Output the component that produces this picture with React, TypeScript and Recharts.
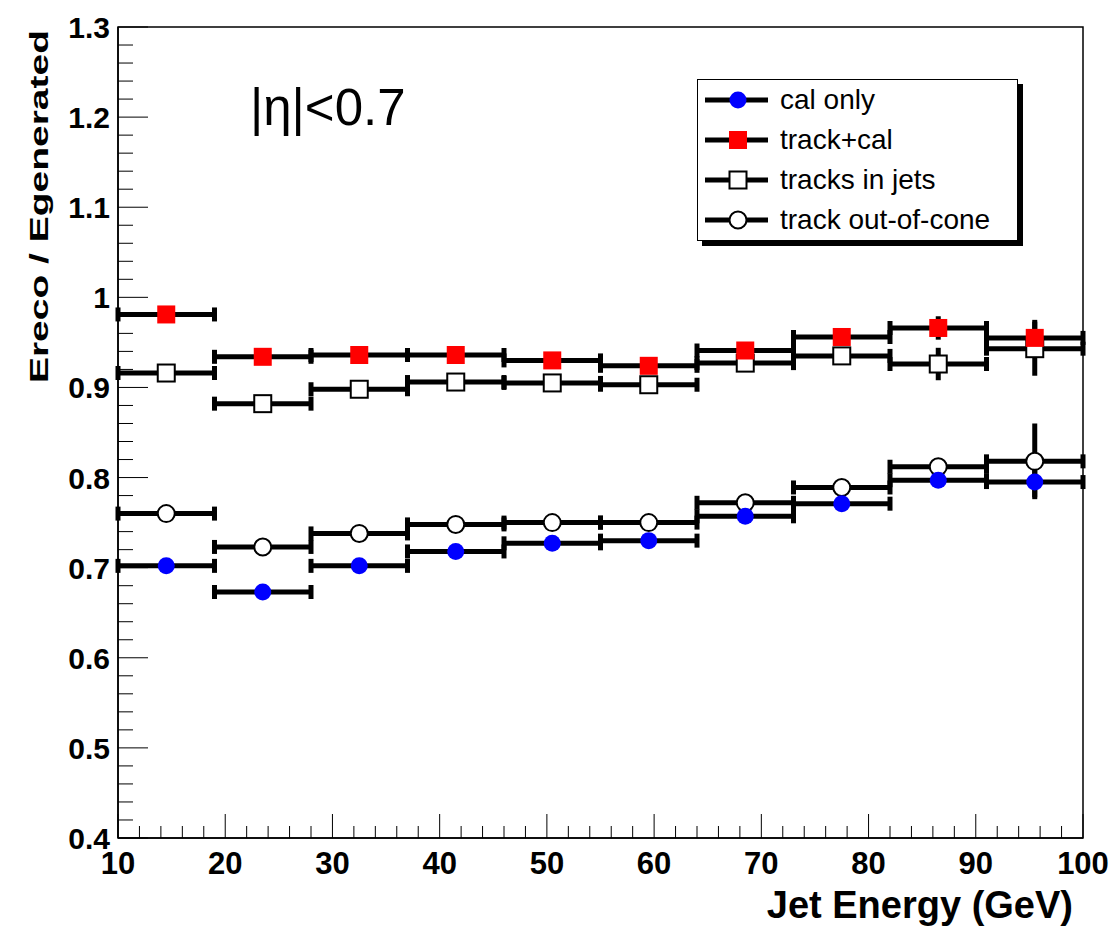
import React from 'react'
import { ComposedChart, ErrorBar, Legend, ReferenceArea, Scatter, XAxis, YAxis } from 'recharts'

// bins of 9 GeV between 10 and 100
const BIN_CENTERS = [14.5, 23.5, 32.5, 41.5, 50.5, 59.5, 68.5, 77.5, 86.5, 95.5]
const BIN_HALF_WIDTHS = [4.5, 4.5, 4.5, 4.5, 4.5, 4.5, 4.5, 4.5, 4.5, 4.5]

const CAL_ONLY = [0.702, 0.673, 0.702, 0.718, 0.727, 0.73, 0.757, 0.771, 0.797, 0.795]
const CAL_ONLY_ERR = [0.003, 0.003, 0.003, 0.003, 0.004, 0.004, 0.005, 0.006, 0.008, 0.017]

const TRACK_CAL = [0.981, 0.934, 0.936, 0.936, 0.93, 0.924, 0.941, 0.956, 0.966, 0.955]
const TRACK_CAL_ERR = [0.003, 0.003, 0.003, 0.003, 0.004, 0.004, 0.005, 0.006, 0.013, 0.02]

const TRACKS_IN_JETS = [0.916, 0.882, 0.898, 0.906, 0.905, 0.903, 0.927, 0.935, 0.926, 0.943]
const TRACKS_IN_JETS_ERR = [0.003, 0.003, 0.003, 0.003, 0.004, 0.004, 0.005, 0.006, 0.018, 0.03]

const OUT_OF_CONE = [0.76, 0.723, 0.738, 0.748, 0.75, 0.75, 0.772, 0.789, 0.812, 0.818]
const OUT_OF_CONE_ERR = [0.003, 0.003, 0.003, 0.003, 0.004, 0.004, 0.005, 0.006, 0.008, 0.042]

const X_LABELS = [10, 20, 30, 40, 50, 60, 70, 80, 90, 100]
const Y_LABELS = [0.4, 0.5, 0.6, 0.7, 0.8, 0.9, 1, 1.1, 1.2, 1.3]
const MINOR_DIVISIONS = 5

const FONT = '"Liberation Sans", Arial, Helvetica, sans-serif'

// majors plus the minor subdivisions between them (ROOT style)
function withMinors(majors: number[]): number[] {
  const out: number[] = []
  majors.forEach((m, i) => {
    out.push(m)
    const next = majors[i + 1]
    if (next === undefined) return
    for (let k = 1; k < MINOR_DIVISIONS; k++) {
      out.push(Math.round((m + ((next - m) * k) / MINOR_DIVISIONS) * 1000) / 1000)
    }
  })
  return out
}
const X_TICKS = withMinors(X_LABELS)
const Y_TICKS = withMinors(Y_LABELS)

const toPoints = (values: number[], errs: number[]) =>
  BIN_CENTERS.map((x, i) => ({ x, y: values[i], xErr: BIN_HALF_WIDTHS[i], yErr: errs[i] }))

const isMajor = (list: number[], v: number) => list.some((m) => Math.abs(m - v) < 1e-6)

function XTick(props: any) {
  const { x, y, payload } = props
  const v = payload.value
  const major = isMajor(X_LABELS, v)
  return (
    <g>
      <line x1={x} x2={x} y1={y} y2={y - (major ? 24 : 12)} stroke="#000" strokeWidth={1} />
      {major && (
        <text x={x} y={y + 36} textAnchor="middle" fontFamily={FONT} fontWeight={700} fontSize={31} fill="#000">
          {v}
        </text>
      )}
    </g>
  )
}

function YTick(props: any) {
  const { x, y, payload } = props
  const v = payload.value
  const major = isMajor(Y_LABELS, v)
  return (
    <g>
      <line x1={x} x2={x + (major ? 30 : 15)} y1={y} y2={y} stroke="#000" strokeWidth={1} />
      {major && (
        <text x={x - 8} y={y + 11} textAnchor="end" fontFamily={FONT} fontWeight={700} fontSize={30} fill="#000">
          {String(Number(v.toFixed(1)))}
        </text>
      )}
    </g>
  )
}

function XTitle(props: any) {
  const vb = props.viewBox ?? { x: 118, y: 838, width: 965, height: 91 }
  return (
    <text x={vb.x + vb.width - 10} y={vb.y + 80} textAnchor="end" fontFamily={FONT} fontWeight={700} fontSize={38} fill="#000">
      Jet Energy (GeV)
    </text>
  )
}

function YTitle(props: any) {
  const vb = props.viewBox ?? { x: 0, y: 27, width: 118, height: 811 }
  return (
    <text
      transform={`translate(${vb.x + 48}, ${vb.y + 3}) rotate(-90) scale(1, 0.68)`}
      textAnchor="end"
      fontFamily={FONT}
      fontWeight={700}
      fontSize={39}
      fill="#000"
    >
      Ereco / Egenerated
    </text>
  )
}

// markers, sized like the ROOT ones
const blueDot = (p: any) => <circle cx={p.cx} cy={p.cy} r={8.5} fill="#0000ff" />
const redSquare = (p: any) => <rect x={p.cx - 9} y={p.cy - 9} width={18} height={18} fill="#ff0000" />
const openSquare = (p: any) => (
  <rect x={p.cx - 8.5} y={p.cy - 8.5} width={17} height={17} fill="#fff" stroke="#000" strokeWidth={2} />
)
const openCircle = (p: any) => <circle cx={p.cx} cy={p.cy} r={8.5} fill="#fff" stroke="#000" strokeWidth={2} />

const LEGEND_ITEMS = [
  { label: 'cal only', shape: blueDot },
  { label: 'track+cal', shape: redSquare },
  { label: 'tracks in jets', shape: openSquare },
  { label: 'track out-of-cone', shape: openCircle },
]

function LegendBox() {
  return (
    <div
      style={{
        width: 321,
        height: 162,
        border: '1.5px solid #000',
        boxShadow: '5px 5px 0 #000',
        background: '#fff',
        paddingTop: 0,
        boxSizing: 'border-box',
      }}
    >
      {LEGEND_ITEMS.map((it) => (
        <div key={it.label} style={{ display: 'flex', alignItems: 'center', height: 40, marginTop: 0 }}>
          <svg width={82} height={40} style={{ flex: 'none' }}>
            <line x1={7} x2={70} y1={20} y2={20} stroke="#000" strokeWidth={5} />
            {it.shape({ cx: 40, cy: 20 })}
          </svg>
          <span style={{ fontFamily: FONT, fontSize: 28, color: '#000', whiteSpace: 'nowrap' }}>{it.label}</span>
        </div>
      ))}
    </div>
  )
}

const SERIES = [
  { name: 'track out-of-cone', data: toPoints(OUT_OF_CONE, OUT_OF_CONE_ERR), shape: openCircle },
  { name: 'tracks in jets', data: toPoints(TRACKS_IN_JETS, TRACKS_IN_JETS_ERR), shape: openSquare },
  { name: 'track+cal', data: toPoints(TRACK_CAL, TRACK_CAL_ERR), shape: redSquare },
  { name: 'cal only', data: toPoints(CAL_ONLY, CAL_ONLY_ERR), shape: blueDot },
]

export default function App() {
  return (
    <div style={{ position: 'absolute', left: 0, top: 0, width: 1117, height: 929, background: '#fff' }}>
      <ComposedChart width={1117} height={929} margin={{ top: 27, right: 34, bottom: 0, left: 0 }}>
        <XAxis
          type="number"
          dataKey="x"
          domain={[10, 100]}
          ticks={X_TICKS}
          interval={0}
          tick={(p: any) => <XTick {...p} />}
          tickLine={false}
          tickSize={0}
          tickMargin={0}
          axisLine={{ stroke: '#000', strokeWidth: 1.5 }}
          height={91}
          allowDataOverflow
          label={(p: any) => <XTitle {...p} />}
        />
        <YAxis
          type="number"
          dataKey="y"
          domain={[0.4, 1.3]}
          ticks={Y_TICKS}
          interval={0}
          tick={(p: any) => <YTick {...p} />}
          tickLine={false}
          tickSize={0}
          tickMargin={0}
          axisLine={{ stroke: '#000', strokeWidth: 1.5 }}
          width={118}
          allowDataOverflow
          label={(p: any) => <YTitle {...p} />}
        />
        <ReferenceArea x1={10} x2={100} y1={0.4} y2={1.3} fill="none" stroke="#000" strokeWidth={1.5} />
        {SERIES.map((s) => (
          <Scatter key={s.name} name={s.name} data={s.data} shape={s.shape} isAnimationActive={false}>
            <ErrorBar dataKey="xErr" direction="x" stroke="#000" strokeWidth={5} width={7} isAnimationActive={false} />
            <ErrorBar dataKey="yErr" direction="y" stroke="#000" strokeWidth={5} width={0} isAnimationActive={false} />
          </Scatter>
        ))}
        <Legend
          layout="vertical"
          align="center"
          verticalAlign="middle"
          wrapperStyle={{ left: 697, top: 79, width: 330, height: 170 }}
          content={() => <LegendBox />}
        />
      </ComposedChart>
      <div
        style={{
          position: 'absolute',
          left: 250,
          top: 78,
          fontFamily: FONT,
          fontSize: 51,
          lineHeight: '60px',
          color: '#000',
          whiteSpace: 'nowrap',
        }}
      >
        |η|&lt;0.7
      </div>
    </div>
  )
}
